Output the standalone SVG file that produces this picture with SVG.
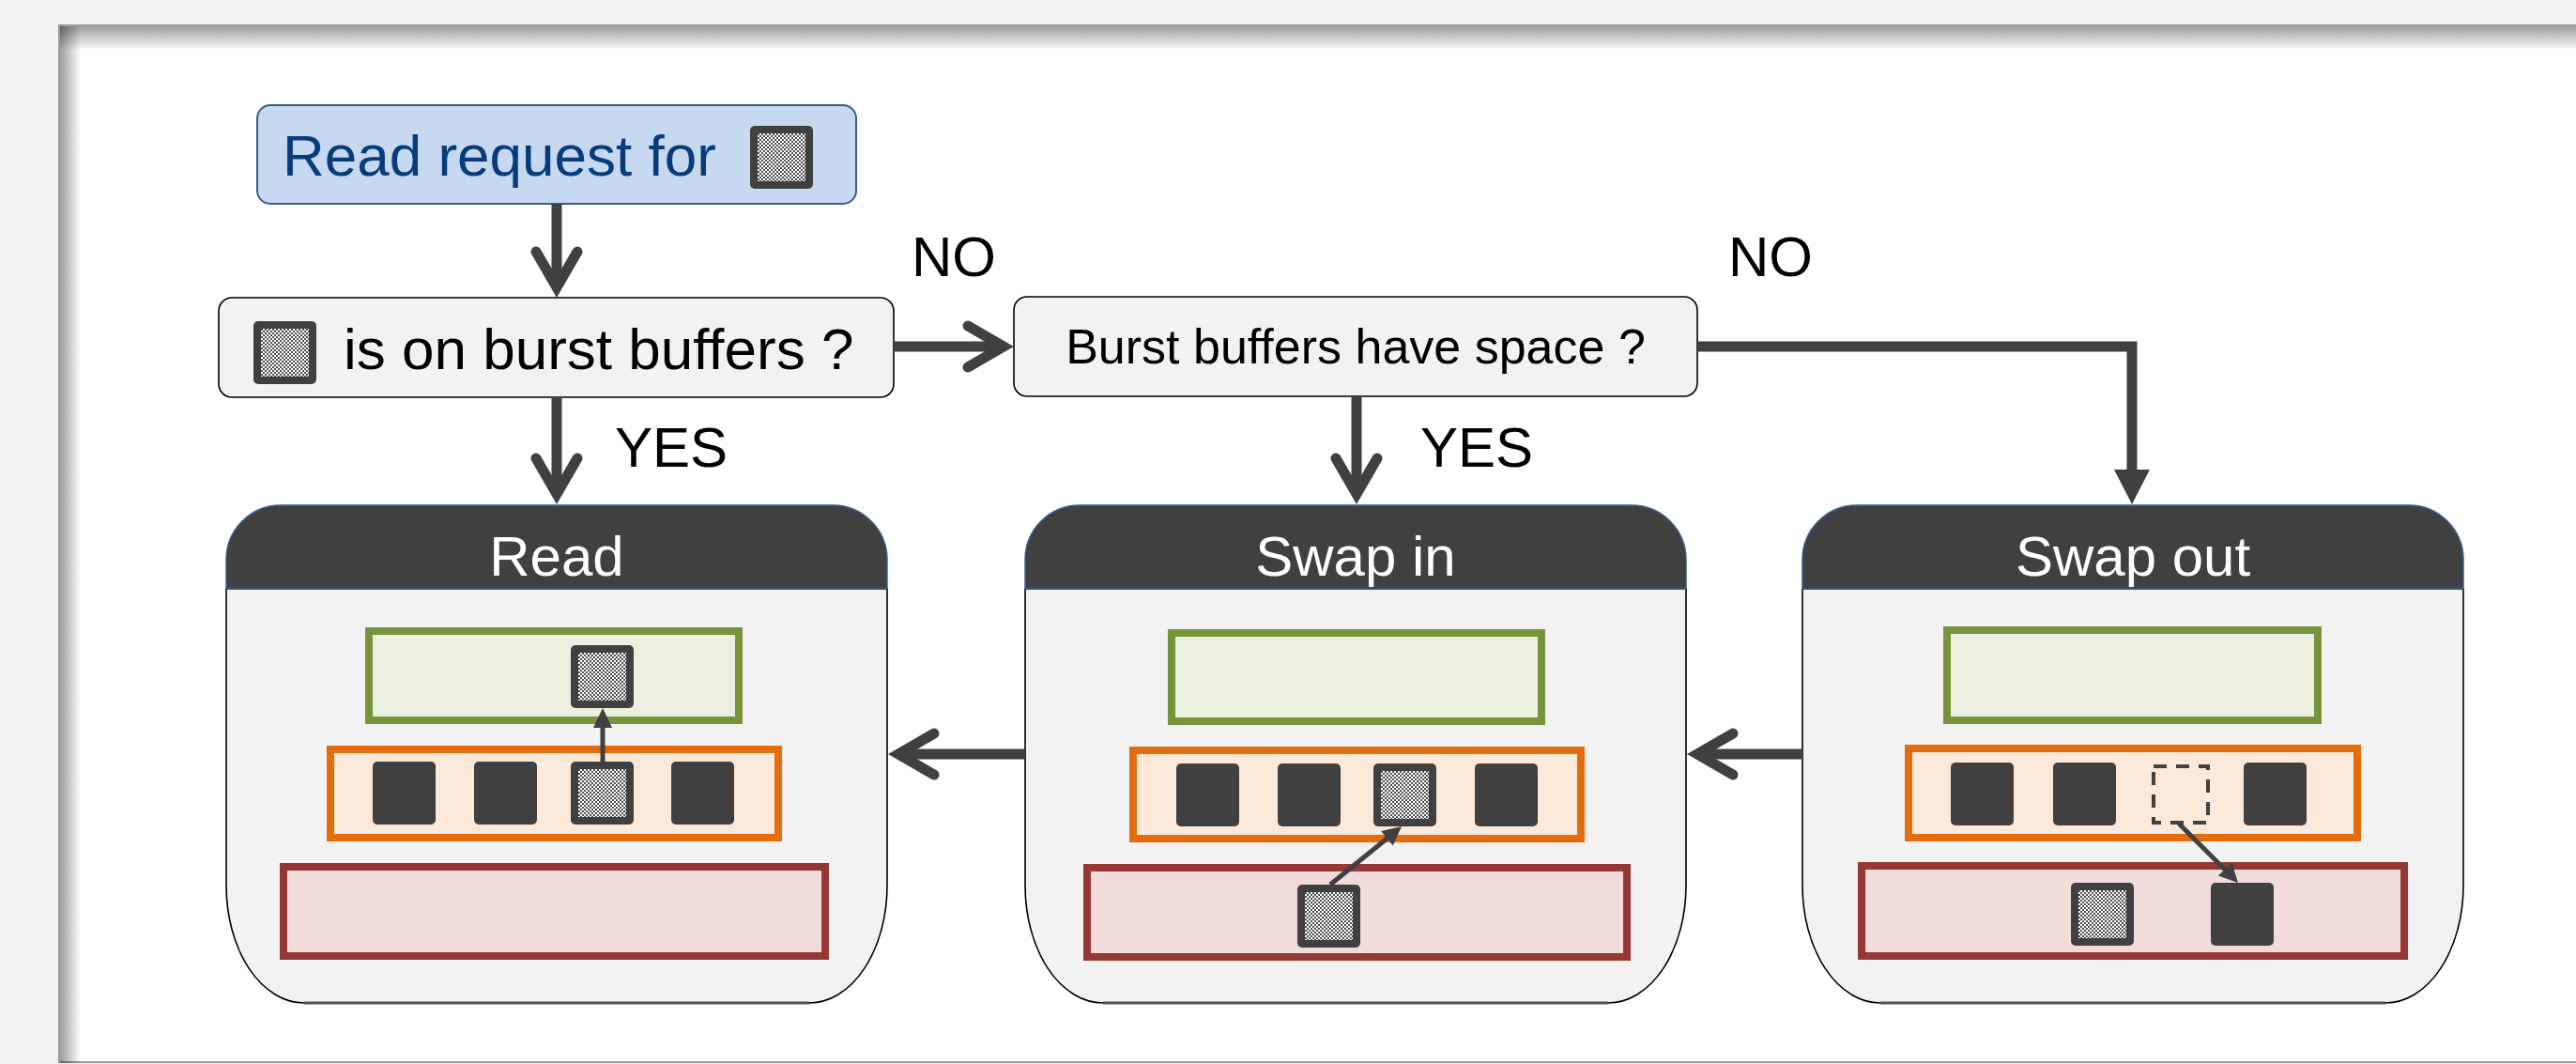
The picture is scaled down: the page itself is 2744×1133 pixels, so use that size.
<svg xmlns="http://www.w3.org/2000/svg" xmlns:xlink="http://www.w3.org/1999/xlink" width="2744" height="1133" viewBox="0 0 2744 1133">
<defs>
<style>
text{font-family:"Liberation Sans",Arial,sans-serif}
.lbl{font-size:60px;fill:#000}
.dec{fill:#f2f2f2;stroke:#000;stroke-width:1.6}
.body{fill:#f2f2f2;stroke:#000;stroke-width:1.6}
.hdr{fill:#404040;stroke:#385d8a;stroke-width:1.5}
.htx{font-size:60px;fill:#fff;text-anchor:middle}
.grn{fill:#ebf1de;stroke:#77933c;stroke-width:8}
.org{fill:#fde9d9;stroke:#e46c0a;stroke-width:8}
.red{fill:#f2dcdb;stroke:#953735;stroke-width:8}
.blk{fill:#404040}
.sh{fill:none;stroke:#404040;stroke-width:11}
.chev{fill:none;stroke:#404040;stroke-width:11;stroke-linecap:round;stroke-linejoin:miter}
.thin{fill:none;stroke:#404040;stroke-width:5}
.hd{fill:#404040}
</style>
<pattern id="chk" width="4" height="4" patternUnits="userSpaceOnUse">
<rect width="4" height="4" fill="#ffffff"/>
<rect width="2" height="2" fill="#505050"/>
<rect x="2" y="2" width="2" height="2" fill="#505050"/>
</pattern>
<g id="patblk">
<rect width="67" height="67" rx="5" fill="#404040"/>
<rect x="8" y="8" width="51" height="51" fill="url(#chk)"/>
</g>
<linearGradient id="shT" x1="0" y1="0" x2="0" y2="1">
<stop offset="0" stop-color="#000" stop-opacity="0.38"/>
<stop offset="1" stop-color="#000" stop-opacity="0"/>
</linearGradient>
<linearGradient id="shL" x1="0" y1="0" x2="1" y2="0">
<stop offset="0" stop-color="#000" stop-opacity="0.38"/>
<stop offset="1" stop-color="#000" stop-opacity="0"/>
</linearGradient>
</defs>

<g id="background">
<rect x="0" y="0" width="2744" height="1133" fill="#f2f1ef"/>
<rect x="63" y="27" width="2700" height="1104" fill="#ffffff" stroke="#9a9a9a" stroke-width="2"/>
<rect x="64" y="28" width="2700" height="26" fill="url(#shT)"/>
<rect x="64" y="28" width="22" height="1104" fill="url(#shL)"/>
</g>

<g id="node-request">
<rect x="274" y="112" width="638" height="105" rx="14" fill="#c6d9f1" stroke="#385d8a" stroke-width="2"/>
<text x="301" y="187" font-size="62" fill="#073c7c">Read request for</text>
<use href="#patblk" x="799" y="134"/>
</g>

<g id="node-onbb">
<rect class="dec" x="233" y="317" width="719" height="106" rx="14"/>
<use href="#patblk" x="270" y="342"/>
<text x="366" y="393" font-size="62" fill="#000">is on burst buffers ?</text>
</g>

<g id="node-space">
<rect class="dec" x="1080" y="316" width="728" height="106" rx="14"/>
<text x="1444" y="387" font-size="52" fill="#000" text-anchor="middle">Burst buffers have space ?</text>
</g>

<g id="panel-read">
<path class="body" d="M241,627 L241,943 A83,125 0 0 0 324,1068 L862,1068 A83,125 0 0 0 945,943 L945,627 Z"/>
<line x1="324" y1="1068" x2="862" y2="1068" stroke="#505050" stroke-width="3"/>
<path class="hdr" d="M241,627 L241,596 A58,58 0 0 1 299,538 L887,538 A58,58 0 0 1 945,596 L945,627 Z"/>
<text class="htx" x="593" y="613">Read</text>
<rect class="grn" x="393" y="672" width="394" height="95"/>
<rect class="org" x="352" y="798" width="477" height="94"/>
<rect class="red" x="302" y="923" width="577" height="95"/>
<rect class="blk" x="397" y="811" width="67" height="67" rx="5"/>
<rect class="blk" x="505" y="811" width="67" height="67" rx="5"/>
<use href="#patblk" x="608" y="811"/>
<rect class="blk" x="715" y="811" width="67" height="67" rx="5"/>
<use href="#patblk" x="608" y="687"/>
<line class="thin" x1="642" y1="811" x2="642" y2="774"/>
<polygon class="hd" points="632,775 652,775 642,754"/>
</g>

<g id="panel-swapin">
<path class="body" d="M1092,627 L1092,943 A83,125 0 0 0 1175,1068 L1713,1068 A83,125 0 0 0 1796,943 L1796,627 Z"/>
<line x1="1175" y1="1068" x2="1713" y2="1068" stroke="#505050" stroke-width="3"/>
<path class="hdr" d="M1092,627 L1092,596 A58,58 0 0 1 1150,538 L1738,538 A58,58 0 0 1 1796,596 L1796,627 Z"/>
<text class="htx" x="1444" y="613">Swap in</text>
<rect class="grn" x="1248" y="674" width="394" height="94"/>
<rect class="org" x="1207" y="799" width="477" height="94"/>
<rect class="red" x="1158" y="924" width="575" height="95"/>
<rect class="blk" x="1253" y="813" width="67" height="67" rx="5"/>
<rect class="blk" x="1361" y="813" width="67" height="67" rx="5"/>
<use href="#patblk" x="1463" y="813"/>
<rect class="blk" x="1571" y="813" width="67" height="67" rx="5"/>
<use href="#patblk" x="1382" y="942"/>
<line class="thin" x1="1417" y1="942" x2="1481" y2="890"/>
<polygon class="hd" points="1493,880 1483.8,900.4 1471.2,884.9"/>
</g>

<g id="panel-swapout">
<path class="body" d="M1920,627 L1920,943 A83,125 0 0 0 2003,1068 L2541,1068 A83,125 0 0 0 2624,943 L2624,627 Z"/>
<line x1="2003" y1="1068" x2="2541" y2="1068" stroke="#505050" stroke-width="3"/>
<path class="hdr" d="M1920,627 L1920,596 A58,58 0 0 1 1978,538 L2566,538 A58,58 0 0 1 2624,596 L2624,627 Z"/>
<text class="htx" x="2272" y="613">Swap out</text>
<rect class="grn" x="2074" y="671" width="395" height="96"/>
<rect class="org" x="2033" y="797" width="478" height="95"/>
<rect class="red" x="1983" y="922" width="578" height="96"/>
<rect class="blk" x="2078" y="812" width="67" height="67" rx="5"/>
<rect class="blk" x="2187" y="812" width="67" height="67" rx="5"/>
<rect x="2294" y="816" width="58" height="60" fill="none" stroke="#404040" stroke-width="4" stroke-dasharray="14 10"/>
<rect class="blk" x="2390" y="812" width="67" height="67" rx="5"/>
<use href="#patblk" x="2206" y="940"/>
<rect class="blk" x="2355" y="940" width="67" height="67" rx="5"/>
<line class="thin" x1="2321" y1="877" x2="2373" y2="929"/>
<polygon class="hd" points="2384,940 2362.9,932.6 2377.3,918.6"/>
</g>

<g id="connectors">
<line class="sh" x1="593" y1="217" x2="593" y2="306"/>
<path class="chev" d="M571,268 L593,306 L615,268"/>
<line class="sh" x1="593" y1="423" x2="593" y2="526"/>
<path class="chev" d="M571,488 L593,526 L615,488"/>
<line class="sh" x1="952" y1="369" x2="1069" y2="369"/>
<path class="chev" d="M1031,347 L1069,369 L1031,391"/>
<line class="sh" x1="1445" y1="422" x2="1445" y2="526"/>
<path class="chev" d="M1423,488 L1445,526 L1467,488"/>
<path class="sh" d="M1808,369 H2271 V502"/>
<polygon class="hd" points="2252,500 2290,500 2271,537"/>
<line class="sh" x1="1092" y1="803" x2="957" y2="803"/>
<path class="chev" d="M995,781 L957,803 L995,825"/>
<line class="sh" x1="1920" y1="803" x2="1808" y2="803"/>
<path class="chev" d="M1846,781 L1808,803 L1846,825"/>
<text class="lbl" x="971" y="294">NO</text>
<text class="lbl" x="1841" y="294">NO</text>
<text class="lbl" x="655" y="497">YES</text>
<text class="lbl" x="1513" y="497">YES</text>
</g>
</svg>
